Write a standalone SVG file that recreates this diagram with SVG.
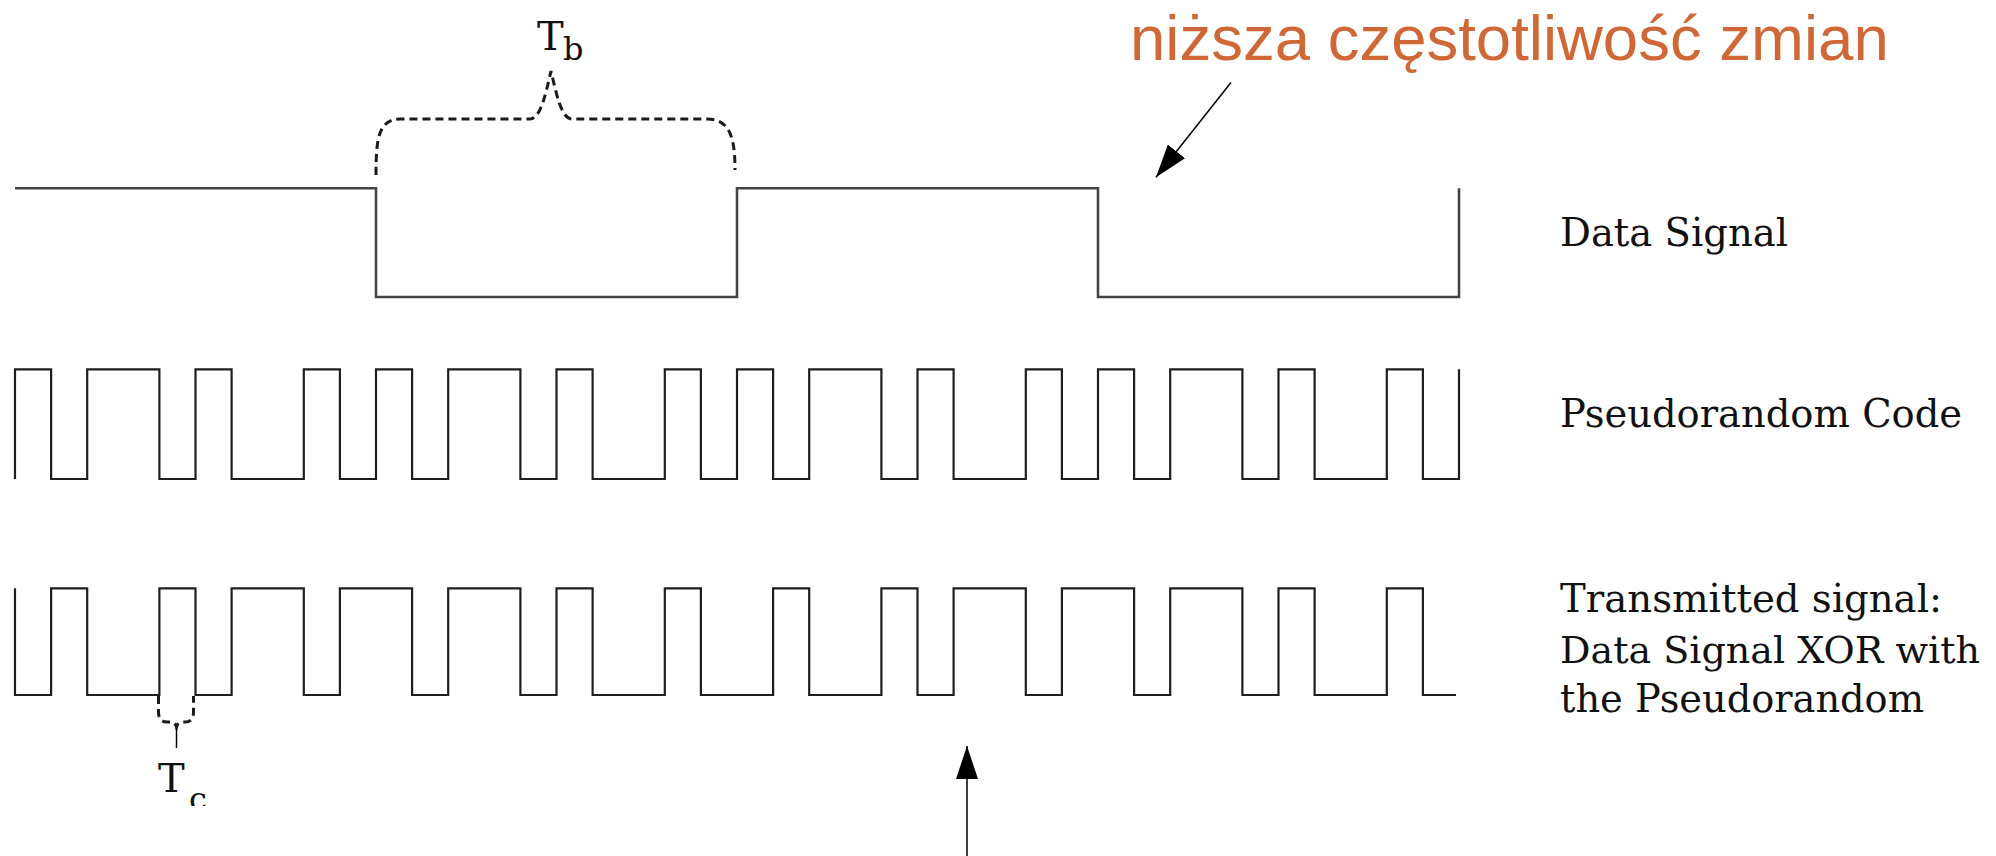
<svg xmlns="http://www.w3.org/2000/svg" width="1996" height="856" viewBox="0 0 1996 856">
  <style>
    .wave { fill: none; stroke: #1e1e1e; stroke-width: 2.2; stroke-linejoin: miter; }
    .wave-data { fill: none; stroke: #454545; stroke-width: 2.6; }
    .brace { fill: none; stroke: #1a1a1a; stroke-width: 3; stroke-dasharray: 8 5; }
    .label { font-family: "DejaVu Serif", "Liberation Serif", serif; font-size: 40px; fill: #111; }
    .label-narrow { font-size: 38px; }
    .sym { font-family: "DejaVu Serif", "Liberation Serif", serif; font-size: 40px; fill: #111; }
    .sub { font-family: "DejaVu Serif", "Liberation Serif", serif; font-size: 32px; fill: #111; }
    .note { font-family: "Liberation Sans", Arial, sans-serif; font-size: 63.5px; fill: #cf6836; }
    .pointer { fill: none; stroke: #000; stroke-width: 1.5; }
  </style>
  <defs>
    <marker id="head" viewBox="0 0 33 22" refX="33" refY="11" markerWidth="33" markerHeight="22" markerUnits="userSpaceOnUse" orient="auto">
      <path d="M0,0 L33,11 L0,22 Z" fill="#000"/>
    </marker>
    <clipPath id="tc-clip">
      <rect x="0" y="0" width="400" height="806"/>
    </clipPath>
  </defs>
  <rect width="1996" height="856" fill="#fff"/>

  <!-- data signal: one bit = 10 chips of 36.1 px -->
  <g id="data-signal">
    <path class="wave-data" d="M15 188.3 H376 V297 H737 V188.3 H1098 V297 H1459 V188.3"/>
    <text class="label" x="1560" y="246" textLength="228" lengthAdjust="spacingAndGlyphs">Data Signal</text>
  </g>

  <!-- pseudorandom chip sequence -->
  <g id="pn-code">
    <path class="wave" d="M15 479 V369.3 H51.1 V479 H87.2 V369.3 H159.4 V479 H195.5 V369.3 H231.6 V479 H303.8 V369.3 H339.9 V479 H376 V369.3 H412.1 V479 H448.2 V369.3 H520.4 V479 H556.5 V369.3 H592.6 V479 H664.8 V369.3 H700.9 V479 H737 V369.3 H773.1 V479 H809.2 V369.3 H881.4 V479 H917.5 V369.3 H953.6 V479 H1025.8 V369.3 H1061.9 V479 H1098 V369.3 H1134.1 V479 H1170.2 V369.3 H1242.4 V479 H1278.5 V369.3 H1314.6 V479 H1386.8 V369.3 H1422.9 V479 H1459 V369.3"/>
    <text class="label" x="1560" y="427" textLength="402" lengthAdjust="spacingAndGlyphs">Pseudorandom Code</text>
  </g>

  <!-- transmitted = data XOR code -->
  <g id="transmitted">
    <path class="wave" d="M15 588.3 V695 H51.1 V588.3 H87.2 V695 H159.4 V588.3 H195.5 V695 H231.6 V588.3 H303.8 V695 H339.9 V588.3 H412.1 V695 H448.2 V588.3 H520.4 V695 H556.5 V588.3 H592.6 V695 H664.8 V588.3 H700.9 V695 H773.1 V588.3 H809.2 V695 H881.4 V588.3 H917.5 V695 H953.6 V588.3 H1025.8 V695 H1061.9 V588.3 H1134.1 V695 H1170.2 V588.3 H1242.4 V695 H1278.5 V588.3 H1314.6 V695 H1386.8 V588.3 H1422.9 V695 H1456"/>
    <text class="label" x="1560" y="612" textLength="382" lengthAdjust="spacingAndGlyphs">Transmitted signal:</text>
    <text class="label label-narrow" x="1560" y="663" textLength="420" lengthAdjust="spacingAndGlyphs">Data Signal XOR with</text>
    <text class="label" x="1560" y="712" textLength="364" lengthAdjust="spacingAndGlyphs">the Pseudorandom</text>
  </g>

  <!-- bit period brace -->
  <g id="tb">
    <path class="brace" d="M376 175 C376 140 378 119 400 119 L530 119 C541 119 546 92 551 71 C556 92 561 119 572 119 L707 119 C731 119 735 140 735 170"/>
    <text class="sym" x="537" y="50">T</text>
    <text class="sub" x="563" y="60">b</text>
  </g>

  <!-- chip period brace -->
  <g id="tc">
    <path class="brace" d="M158.5 696 V712 Q158.5 722 167 722 L171 722 Q175 722 176.5 727 Q178 722 182 722 L185 722 Q193.5 722 193.5 712 V696"/>
    <path class="pointer" stroke-width="2.6" d="M176.5 728 V748"/>
    <text class="sym" x="158" y="792">T</text>
    <text class="sub" x="189" y="810" clip-path="url(#tc-clip)">c</text>
  </g>

  <!-- annotation -->
  <g id="note">
    <text class="note" x="1130" y="59.5">niższa częstotliwość zmian</text>
  </g>

  <g id="connectors">
    <path class="pointer" d="M1231 82.5 L1156 177.3" marker-end="url(#head)"/>
    <path class="pointer" d="M967 856 L967 746" marker-end="url(#head)"/>
  </g>
</svg>
